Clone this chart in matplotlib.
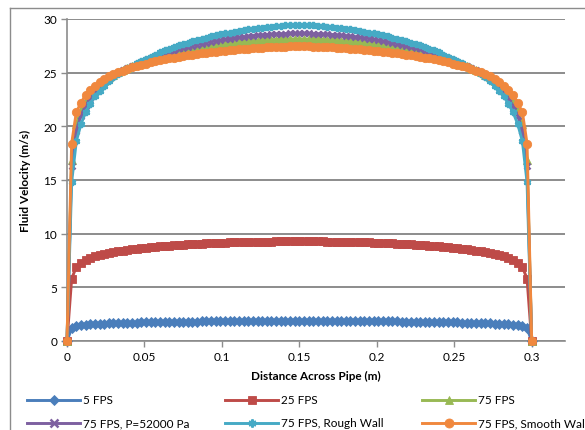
import numpy as np
import matplotlib
matplotlib.use("Agg")
import matplotlib.pyplot as plt
from matplotlib.lines import Line2D

plt.rcParams['font.family'] = ['Lato', 'DejaVu Sans']

# distance across the pipe (m), 101 mesh points 0.003 m apart
distance = np.round(np.arange(101) * 0.003, 3)

v_5fps = [0, 1.18, 1.37, 1.45, 1.5, 1.54, 1.57, 1.6, 1.62, 1.64, 1.66, 1.67, 1.69, 1.7, 1.71, 1.72, 1.73,
          1.74, 1.75, 1.76, 1.77, 1.77, 1.78, 1.79, 1.79, 1.8, 1.8, 1.81, 1.81, 1.82, 1.82, 1.82, 1.83, 1.83,
          1.83, 1.84, 1.84, 1.84, 1.84, 1.85, 1.85, 1.85, 1.85, 1.85, 1.86, 1.86, 1.86, 1.86, 1.86, 1.86, 1.86,
          1.86, 1.86, 1.86, 1.86, 1.86, 1.86, 1.85, 1.85, 1.85, 1.85, 1.85, 1.84, 1.84, 1.84, 1.84, 1.83, 1.83,
          1.83, 1.82, 1.82, 1.82, 1.81, 1.81, 1.8, 1.8, 1.79, 1.79, 1.78, 1.77, 1.77, 1.76, 1.75, 1.74, 1.73,
          1.72, 1.71, 1.7, 1.69, 1.67, 1.66, 1.64, 1.62, 1.6, 1.57, 1.54, 1.5, 1.45, 1.37, 1.18, 0]

v_25fps = [0, 5.8, 6.9, 7.3, 7.55, 7.75, 7.9, 8.02, 8.12, 8.21, 8.29, 8.36, 8.43, 8.49, 8.55, 8.6, 8.65, 8.7,
           8.74, 8.78, 8.82, 8.86, 8.89, 8.92, 8.95, 8.98, 9.01, 9.03, 9.06, 9.08, 9.1, 9.12, 9.14, 9.16, 9.17,
           9.19, 9.2, 9.21, 9.22, 9.23, 9.24, 9.25, 9.26, 9.27, 9.27, 9.28, 9.28, 9.29, 9.29, 9.29, 9.3,
           9.29, 9.29, 9.29, 9.28, 9.28, 9.27, 9.27, 9.26, 9.25, 9.24, 9.23, 9.22, 9.21, 9.2, 9.19, 9.17, 9.16,
           9.14, 9.12, 9.1, 9.08, 9.06, 9.03, 9.01, 8.98, 8.95, 8.92, 8.89, 8.86, 8.82, 8.78, 8.74, 8.7, 8.65,
           8.6, 8.55, 8.49, 8.43, 8.36, 8.29, 8.21, 8.12, 8.02, 7.9, 7.75, 7.55, 7.3, 6.9, 5.8, 0]

v_75fps = [0, 16.9, 20.2, 21.5, 22.35, 23.0, 23.5, 23.9, 24.25, 24.55, 24.82, 25.06, 25.28, 25.48, 25.66,
           25.83, 25.99, 26.14, 26.28, 26.41, 26.53, 26.64, 26.75, 26.85, 26.95, 27.04, 27.13, 27.21, 27.29,
           27.37, 27.44, 27.51, 27.57, 27.63, 27.69, 27.74, 27.79, 27.84, 27.88, 27.92, 27.96, 27.99, 28.02,
           28.05, 28.07, 28.09, 28.11, 28.12, 28.13, 28.14, 28.14,
           28.14, 28.13, 28.12, 28.11, 28.09, 28.07, 28.05, 28.02, 27.99, 27.96, 27.92, 27.88, 27.84, 27.79,
           27.74, 27.69, 27.63, 27.57, 27.51, 27.44, 27.37, 27.29, 27.21, 27.13, 27.04, 26.95, 26.85, 26.75,
           26.64, 26.53, 26.41, 26.28, 26.14, 25.99, 25.83, 25.66, 25.48, 25.28, 25.06, 24.82, 24.55, 24.25,
           23.9, 23.5, 23.0, 22.35, 21.5, 20.2, 16.9, 0]

v_75fps_p52000 = [0, 16.3, 19.6, 21.0, 21.9, 22.6, 23.2, 23.65, 24.05, 24.4, 24.7, 24.98, 25.22, 25.45, 25.66,
                  25.85, 26.03, 26.2, 26.36, 26.51, 26.65, 26.78, 26.9, 27.02, 27.16, 27.28, 27.39, 27.5, 27.6,
                  27.7, 27.8, 27.88, 27.96, 28.04, 28.11, 28.18, 28.25, 28.3, 28.35, 28.4, 28.45, 28.49, 28.52,
                  28.55, 28.58, 28.6, 28.62, 28.64, 28.66, 28.67, 28.68,
                  28.67, 28.66, 28.64, 28.62, 28.6, 28.58, 28.55, 28.52, 28.49, 28.45, 28.4, 28.35, 28.3, 28.25,
                  28.18, 28.11, 28.04, 27.96, 27.88, 27.8, 27.7, 27.6, 27.5, 27.39, 27.28, 27.16, 27.02, 26.9,
                  26.78, 26.65, 26.51, 26.36, 26.2, 26.03, 25.85, 25.66, 25.45, 25.22, 24.98, 24.7, 24.4, 24.05,
                  23.65, 23.2, 22.6, 21.9, 21.0, 19.6, 16.3, 0]

v_75fps_rough = [0, 14.8, 18.6, 20.2, 21.3, 22.1, 22.8, 23.3, 23.8, 24.2, 24.55, 24.85, 25.15, 25.4, 25.65,
                 25.88, 26.1, 26.3, 26.5, 26.68, 26.9, 27.08, 27.25, 27.4, 27.55, 27.68, 27.81, 27.93, 28.05,
                 28.16, 28.27, 28.37, 28.47, 28.56, 28.65, 28.74, 28.82, 28.89, 28.96, 29.03, 29.09, 29.15, 29.2,
                 29.25, 29.3, 29.34, 29.38, 29.41, 29.43, 29.45, 29.46,
                 29.45, 29.43, 29.41, 29.38, 29.34, 29.3, 29.25, 29.2, 29.15, 29.09, 29.03, 28.96, 28.89, 28.82,
                 28.74, 28.65, 28.56, 28.47, 28.37, 28.27, 28.16, 28.05, 27.93, 27.81, 27.68, 27.55, 27.4, 27.25,
                 27.08, 26.9, 26.68, 26.5, 26.3, 26.1, 25.88, 25.65, 25.4, 25.15, 24.85, 24.55, 24.2, 23.8, 23.3,
                 22.8, 22.1, 21.3, 20.2, 18.6, 14.8, 0]

v_75fps_smooth = [0, 18.4, 21.3, 22.2, 22.9, 23.4, 23.8, 24.1, 24.4, 24.65, 24.85, 25.05, 25.2, 25.35, 25.5,
                  25.62, 25.74, 25.85, 25.95, 26.05, 26.15, 26.24, 26.32, 26.4, 26.48, 26.55, 26.62, 26.68, 26.74,
                  26.8, 26.86, 26.91, 26.96, 27.01, 27.06, 27.1, 27.14, 27.18, 27.22, 27.25, 27.28, 27.31, 27.34,
                  27.36, 27.38, 27.4, 27.42, 27.43, 27.44, 27.45, 27.45,
                  27.45, 27.44, 27.43, 27.42, 27.4, 27.38, 27.36, 27.34, 27.31, 27.28, 27.25, 27.22, 27.18, 27.14,
                  27.1, 27.06, 27.01, 26.96, 26.91, 26.86, 26.8, 26.74, 26.68, 26.62, 26.55, 26.48, 26.4, 26.32,
                  26.24, 26.15, 26.05, 25.95, 25.85, 25.74, 25.62, 25.5, 25.35, 25.2, 25.05, 24.85, 24.65, 24.4,
                  24.1, 23.8, 23.4, 22.9, 22.2, 21.3, 18.4, 0]

labels = ['5 FPS', '25 FPS', '75 FPS', '75 FPS, P=52000 Pa', '75 FPS, Rough Wall', '75 FPS, Smooth Wall']
series = [v_5fps, v_25fps, v_75fps, v_75fps_p52000, v_75fps_rough, v_75fps_smooth]

# excel 2010 style
styles = [
    dict(color='#4A7EBB', marker='D', ms=4.6, mew=0.6),
    dict(color='#BE4B48', marker='s', ms=5.6, mew=0.6),
    dict(color='#98B954', marker='^', ms=5.6, mew=0.6),
    dict(color='#7D60A0', marker='x', ms=4.6, mew=1.8),
    dict(color='#46AAC5', marker=(6, 2, 0), ms=5.2, mew=1.8),
    dict(color='#F0883E', marker='o', ms=6.0, mew=0.6),
]

W, H = 585, 431
fig = plt.figure(figsize=(W / 100, H / 100), dpi=100)
ax = fig.add_axes([67 / W, 1 - 342 / H, (565 - 67) / W, (342 - 20) / H])

grid_c = '#8C8C8C'
for y, st in zip(series, styles):
    x = distance[:len(y)]
    ax.plot(x, y, '-', lw=2.1, color=st['color'], marker=st['marker'], ms=st['ms'],
            mfc=st['color'], mec=st['color'], mew=st['mew'], clip_on=False, zorder=3)

ax.set_xlim(0, 0.3215)
ax.set_ylim(0, 30)
ax.set_xticks([0, 0.05, 0.1, 0.15, 0.2, 0.25, 0.3])
ax.set_xticklabels(['0', '0.05', '0.1', '0.15', '0.2', '0.25', '0.3'])
ax.set_yticks(range(0, 31, 5))
ax.yaxis.grid(True, color=grid_c, lw=1.4)
ax.set_axisbelow(True)
for s in ['top', 'right']:
    ax.spines[s].set_visible(False)
for s in ['left', 'bottom']:
    ax.spines[s].set_color(grid_c)
    ax.spines[s].set_linewidth(1.2)
ax.tick_params(axis='both', direction='out', length=4, color=grid_c, width=1.0,
               labelsize=8.5, labelcolor='black', pad=3)

ax.set_xlabel('Distance Across Pipe (m)', fontsize=8.5, fontweight='bold', labelpad=6)
ax.set_ylabel('Fluid Velocity (m/s)', fontsize=8.5, fontweight='bold', labelpad=9)

# outer chart border (cropped on right/bottom)
bx, by = 10 / W, 1 - 9 / H
fig.add_artist(Line2D([bx, bx], [0, by], transform=fig.transFigure, color=grid_c, lw=1.0))
fig.add_artist(Line2D([bx, 1], [by, by], transform=fig.transFigure, color=grid_c, lw=1.0))

# legend laid out like excel: 3 columns, 2 rows
col_x = [27, 225, 422]
row_y = [401, 424]
for i, (lab, st) in enumerate(zip(labels, styles)):
    x0 = col_x[i % 3]
    yy = 1 - row_y[i // 3] / H
    xs = [x0 / W, (x0 + 26.5) / W, (x0 + 53) / W]
    fig.add_artist(Line2D(xs, [yy] * 3, transform=fig.transFigure, color=st['color'], lw=2.1,
                          marker=st['marker'], markevery=[1], ms=st['ms'] + 0.5, mfc=st['color'],
                          mec=st['color'], mew=st['mew']))
    fig.text((x0 + 56) / W, yy, lab, fontsize=8.5, va='center', ha='left')

fig.savefig('out.png', dpi=100)
